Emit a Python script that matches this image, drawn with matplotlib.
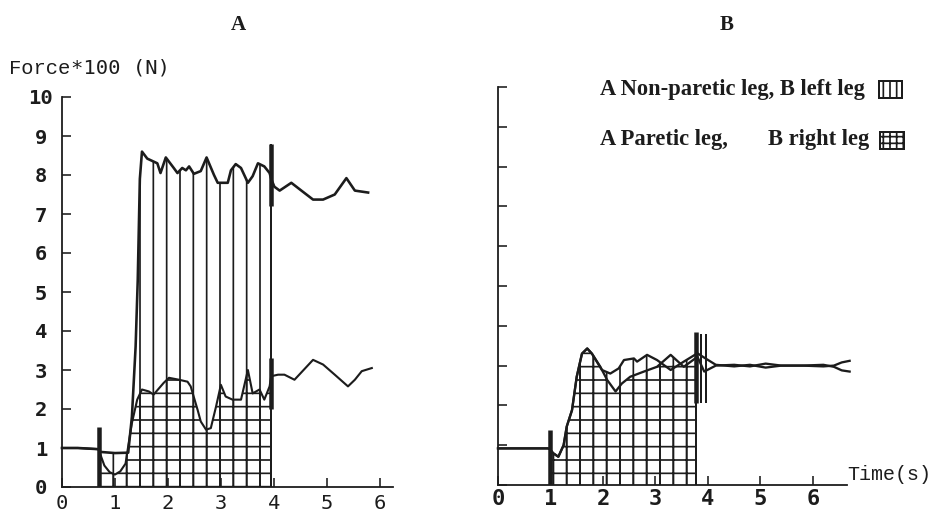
import matplotlib
matplotlib.use("Agg")
import matplotlib.pyplot as plt
from matplotlib.patches import Rectangle
import numpy as np

# ---------------- data ----------------
# Panel A: hemiparetic subject (force*100 N vs time s)
A_nonparetic_t = [0.0, 0.3, 0.69, 0.72, 1.0, 1.25, 1.32, 1.39, 1.43, 1.47, 1.51, 1.61, 1.80, 1.86,
                  1.96, 2.11, 2.18, 2.27, 2.34, 2.40, 2.49, 2.62, 2.73, 2.87, 2.94, 3.13, 3.19,
                  3.28, 3.38, 3.51, 3.60, 3.70, 3.82, 3.92, 3.95, 4.01, 4.11, 4.33, 4.52, 4.74,
                  4.93, 5.15, 5.37, 5.53, 5.78]
A_nonparetic_v = [1.0, 1.0, 0.97, 0.9, 0.87, 0.88, 1.8, 3.6, 5.3, 7.9, 8.6, 8.42, 8.3, 8.05,
                  8.45, 8.18, 8.05, 8.18, 8.12, 8.22, 8.03, 8.1, 8.45, 8.0, 7.8, 7.8, 8.12,
                  8.28, 8.18, 7.8, 7.97, 8.3, 8.22, 8.05, 7.9, 7.7, 7.6, 7.8, 7.6, 7.37,
                  7.37, 7.5, 7.92, 7.6, 7.55]
A_paretic_t = [0.0, 0.3, 0.69, 0.72, 0.8, 0.9, 1.0, 1.1, 1.2, 1.26, 1.32, 1.42, 1.51, 1.64,
               1.73, 1.92, 2.02, 2.21, 2.37, 2.43, 2.56, 2.62, 2.72, 2.81, 2.91, 3.0, 3.09,
               3.22, 3.38, 3.51, 3.60, 3.73, 3.82, 3.92, 3.95, 4.08, 4.20, 4.39, 4.74, 4.93,
               5.15, 5.40, 5.53, 5.66, 5.85]
A_paretic_v = [1.0, 1.0, 0.97, 0.85, 0.55, 0.38, 0.32, 0.4, 0.6, 1.13, 1.64, 2.24, 2.5, 2.45,
               2.37, 2.67, 2.8, 2.75, 2.7, 2.58, 1.98, 1.68, 1.47, 1.51, 2.07, 2.62, 2.32,
               2.24, 2.24, 3.0, 2.4, 2.5, 2.24, 2.58, 2.84, 2.88, 2.88, 2.75, 3.26, 3.14,
               2.88, 2.58, 2.75, 2.97, 3.05]
A_stance = (0.70, 3.95)            # period of double stance (hatched)
A_event_bars = [(0.70, 0.0, 1.55), (3.95, 7.2, 8.8), (3.95, 2.0, 3.3)]

# Panel B: healthy subject
B_common_t = [0.0, 0.95, 0.99, 1.05, 1.15, 1.25, 1.31, 1.41, 1.50, 1.60, 1.70, 1.79]
B_common_v = [0.92, 0.92, 0.9, 0.8, 0.71, 1.0, 1.47, 1.88, 2.72, 3.3, 3.43, 3.3]
B_left_t = [1.98, 2.14, 2.30, 2.40, 2.59, 2.65, 2.84, 3.03, 3.29, 3.54, 3.80, 3.93, 4.15,
            4.5, 4.8, 5.1, 5.4, 5.8, 6.2, 6.4, 6.55, 6.7]
B_left_v = [2.89, 2.8, 2.93, 3.14, 3.18, 3.1, 3.27, 3.14, 2.89, 3.1, 3.31, 3.2, 3.02,
            2.98, 3.02, 2.95, 3.0, 3.0, 2.98, 3.0, 3.08, 3.12]
B_right_t = [1.95, 2.08, 2.24, 2.36, 2.52, 2.78, 3.03, 3.29, 3.54, 3.80, 3.93, 4.15,
             4.5, 4.8, 5.1, 5.4, 5.8, 6.2, 6.4, 6.55, 6.7]
B_right_v = [2.97, 2.64, 2.35, 2.55, 2.72, 2.85, 2.97, 3.27, 2.97, 3.22, 2.85, 3.0,
             3.02, 2.98, 3.05, 3.0, 3.0, 3.02, 2.97, 2.88, 2.85]
B_stance = (0.99, 3.77)
B_event_bars = [(0.99, 0.0, 1.38), (3.77, 2.05, 3.85)]
B_event_lines = [(3.86, 2.05, 3.8), (3.96, 2.05, 3.8)]

y_ticks = list(range(0, 11))
x_ticks = list(range(0, 7))
title_A, title_B = "A", "B"
ylabel_text = ("Force", "*100 (N)")
xlabel_text = "Time(s)"
legend_lines = [("A Non-paretic leg, B left leg", "||"),
                ("A Paretic leg,", "B right leg", "++")]

# ---------------- style ----------------
DPI = 80
W, H = 933, 512
INK = "#1c1c1c"


def pt(px):
    return px * 72.0 / DPI


plt.rcParams['hatch.linewidth'] = pt(1.7)
plt.rcParams['hatch.color'] = INK
plt.rcParams['font.family'] = ['DejaVu Sans']

fig = plt.figure(figsize=(W / DPI, H / DPI), dpi=DPI)
fig.patch.set_facecolor("white")


def interp_on(t, v, t0, t1):
    ts = [x for x in t if t0 <= x <= t1]
    tt = sorted(set([t0] + ts + [t1]))
    vv = np.interp(tt, t, v)
    return tt, vv


def style_axes(ax, xmax, ylbl=True, tick_fs=18, xpad=8, bold=False):
    ax.set_xlim(0, xmax)
    ax.set_ylim(0, 10)
    for s in ("top", "right"):
        ax.spines[s].set_visible(False)
    for s in ("left", "bottom"):
        ax.spines[s].set_linewidth(pt(1.8))
        ax.spines[s].set_color(INK)
    ax.set_yticks(y_ticks)
    ax.set_xticks(x_ticks)
    ax.tick_params(axis='both', direction='in', length=pt(9), width=pt(1.6), color=INK)
    ax.tick_params(axis='x', pad=pt(xpad), labelsize=pt(tick_fs))
    if ylbl:
        ax.tick_params(axis='y', pad=pt(21), labelsize=pt(20.5))
        for lbl in ax.get_yticklabels():
            lbl.set_horizontalalignment('center')
            lbl.set_fontfamily('DejaVu Sans Mono')
            lbl.set_fontweight('bold')
            lbl.set_color(INK)
    else:
        ax.set_yticklabels([])
    for lbl in ax.get_xticklabels():
        lbl.set_fontfamily('DejaVu Sans Mono')
        lbl.set_color(INK)
        if bold:
            lbl.set_fontweight('bold')
    ax.patch.set_alpha(0)


# ---------------- Panel A ----------------
axA = fig.add_axes([62 / W, 25 / H, 331 / W, 390 / H])
style_axes(axA, 6.25, ylbl=True, tick_fs=20.5, xpad=7, bold=False)

t0, t1 = A_stance
tt, vv = interp_on(A_nonparetic_t, A_nonparetic_v, t0, t1)
axA.fill_between(tt, 0, vv, facecolor='none', edgecolor=INK, hatch='|', linewidth=0)
tt, vv = interp_on(A_paretic_t, A_paretic_v, t0, t1)
axA.fill_between(tt, 0, vv, facecolor='none', edgecolor=INK, hatch='+', linewidth=0)
axA.plot(A_nonparetic_t, A_nonparetic_v, color=INK, lw=pt(2.6), clip_on=False)
axA.plot(A_paretic_t, A_paretic_v, color=INK, lw=pt(2.1), clip_on=False)
axA.vlines([t1], 0, [max(b[2] for b in A_event_bars)], color=INK, lw=pt(2.0))
for (t, lo, hi) in A_event_bars:
    axA.vlines([t], lo, hi, color=INK, lw=pt(4.5))

# ---------------- Panel B ----------------
axB = fig.add_axes([498 / W, 27 / H, 349 / W, 398 / H])
style_axes(axB, 6.65, ylbl=False, tick_fs=22, xpad=4, bold=True)

B_left_full_t = B_common_t + B_left_t
B_left_full_v = B_common_v + B_left_v
B_right_full_t = B_common_t + B_right_t
B_right_full_v = B_common_v + B_right_v
t0, t1 = B_stance
tt, vv = interp_on(B_left_full_t, B_left_full_v, t0, t1)
axB.fill_between(tt, 0, vv, facecolor='none', edgecolor=INK, hatch='|', linewidth=0)
tt, vv = interp_on(B_right_full_t, B_right_full_v, t0, t1)
axB.fill_between(tt, 0, vv, facecolor='none', edgecolor=INK, hatch='+', linewidth=0)
axB.plot(B_left_full_t, B_left_full_v, color=INK, lw=pt(2.3), clip_on=False)
axB.plot(B_right_full_t, B_right_full_v, color=INK, lw=pt(2.3), clip_on=False)
axB.vlines([t1], 0, [max(vv)], color=INK, lw=pt(2.0))
for (t, lo, hi) in B_event_bars:
    axB.vlines([t], lo, hi, color=INK, lw=pt(4.5))
for (t, lo, hi) in B_event_lines:
    axB.vlines([t], lo, hi, color=INK, lw=pt(2.0))

# ---------------- texts ----------------
def fx(px):
    return px / W


def fy(py):
    return 1 - py / H


fig.text(fx(238), fy(25), title_A, fontfamily='Liberation Serif', fontweight='bold',
         fontsize=pt(21), ha='center', va='center', color=INK)
fig.text(fx(727), fy(25), title_B, fontfamily='Liberation Serif', fontweight='bold',
         fontsize=pt(21), ha='center', va='center', color=INK)
fig.text(fx(9), fy(68), ylabel_text[0], fontfamily='Liberation Mono', fontsize=pt(20.5),
         ha='left', va='center', color=INK)
fig.text(fx(71), fy(68), ylabel_text[1], fontfamily='DejaVu Sans Mono', fontsize=pt(20.5),
         ha='left', va='center', color=INK)
fig.text(fx(847), fy(475), xlabel_text, fontfamily='Liberation Mono', fontsize=pt(20),
         ha='left', va='center', color=INK)

LEG_FS = pt(22.5)
fig.text(fx(600), fy(89), legend_lines[0][0], fontfamily='Liberation Serif',
         fontweight='bold', fontsize=LEG_FS, ha='left', va='center', color=INK)
fig.text(fx(600), fy(140), legend_lines[1][0], fontfamily='Liberation Serif',
         fontweight='bold', fontsize=LEG_FS, ha='left', va='center', color=INK)
fig.text(fx(768), fy(140), legend_lines[1][1], fontfamily='Liberation Serif',
         fontweight='bold', fontsize=LEG_FS, ha='left', va='center', color=INK)
fig.patches.append(Rectangle((fx(879), fy(98)), 23 / W, 17 / H, transform=fig.transFigure,
                             facecolor='none', edgecolor=INK, hatch=legend_lines[0][1],
                             linewidth=pt(2)))
fig.patches.append(Rectangle((fx(880), fy(149)), 24 / W, 17 / H, transform=fig.transFigure,
                             facecolor='none', edgecolor=INK, hatch=legend_lines[1][2],
                             linewidth=pt(2)))

fig.savefig("out.png", dpi=DPI, facecolor="white")
